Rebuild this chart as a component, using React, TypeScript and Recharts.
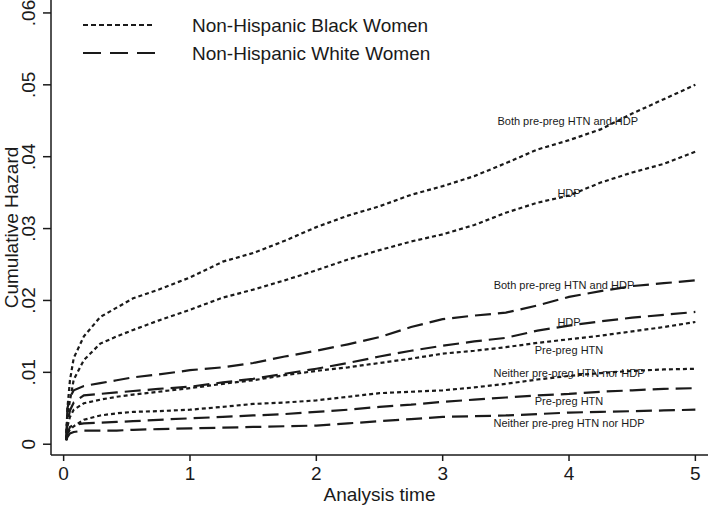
import React from 'react';
import { LineChart, Line, XAxis, YAxis, ReferenceDot } from 'recharts';

// analysis time (years)
const times = [0.02, 0.03, 0.05, 0.08, 0.16, 0.29, 0.42, 0.55, 0.75, 1.0, 1.26, 1.5, 1.75, 2.0, 2.25, 2.5, 2.75, 3.0, 3.25, 3.5, 3.75, 4.0, 4.25, 4.5, 4.75, 5.0];

// Non-Hispanic Black women (dotted)
const blackBoth = [0.0006, 0.005, 0.0089, 0.012, 0.015, 0.0177, 0.019, 0.0203, 0.0215, 0.0232, 0.0254, 0.0266, 0.0283, 0.0302, 0.0318, 0.0331, 0.0347, 0.0359, 0.0373, 0.0391, 0.041, 0.0423, 0.0438, 0.046, 0.048, 0.05];
const blackHdp = [0.0006, 0.004, 0.0061, 0.009, 0.0117, 0.014, 0.015, 0.0159, 0.0172, 0.0187, 0.0204, 0.0215, 0.0228, 0.0242, 0.0257, 0.027, 0.0282, 0.0292, 0.0305, 0.0322, 0.0336, 0.0346, 0.0364, 0.0378, 0.039, 0.0407];
const blackHtn = [0.0006, 0.0025, 0.0038, 0.0048, 0.0057, 0.0062, 0.0066, 0.0069, 0.0073, 0.0078, 0.0084, 0.0089, 0.0096, 0.0102, 0.0107, 0.0113, 0.0119, 0.0126, 0.013, 0.0135, 0.0141, 0.0146, 0.0151, 0.0157, 0.0163, 0.017];
const blackNeither = [0.0006, 0.0015, 0.002, 0.0025, 0.0034, 0.004, 0.0043, 0.0045, 0.0046, 0.0048, 0.0052, 0.0056, 0.0058, 0.0061, 0.0066, 0.0071, 0.0073, 0.0075, 0.0079, 0.0084, 0.009, 0.0095, 0.0099, 0.0102, 0.0104, 0.0105];

// Non-Hispanic White women (dashed)
const whiteBoth = [0.0006, 0.005, 0.0065, 0.0075, 0.0081, 0.0085, 0.0089, 0.0093, 0.0097, 0.0103, 0.0107, 0.0113, 0.0122, 0.013, 0.0139, 0.0149, 0.0163, 0.0174, 0.0179, 0.0183, 0.0193, 0.0205, 0.0213, 0.022, 0.0224, 0.0228];
const whiteHdp = [0.0006, 0.003, 0.0047, 0.0058, 0.0068, 0.007, 0.0072, 0.0074, 0.0077, 0.008, 0.0086, 0.0091, 0.0098, 0.0105, 0.0113, 0.0122, 0.013, 0.0137, 0.0143, 0.0148, 0.0158, 0.0165, 0.0171, 0.0176, 0.018, 0.0184];
const whiteHtn = [0.0006, 0.0015, 0.0024, 0.0027, 0.0029, 0.003, 0.0031, 0.0032, 0.0034, 0.0036, 0.0038, 0.004, 0.0042, 0.0045, 0.0048, 0.0052, 0.0055, 0.0059, 0.0062, 0.0065, 0.0068, 0.007, 0.0073, 0.0075, 0.0077, 0.0078];
const whiteNeither = [0.0005, 0.001, 0.0015, 0.0017, 0.0019, 0.0019, 0.0019, 0.002, 0.0021, 0.0022, 0.0023, 0.0024, 0.0025, 0.0026, 0.0029, 0.0032, 0.0035, 0.0038, 0.0039, 0.004, 0.0042, 0.0044, 0.0045, 0.0046, 0.0047, 0.0048];

const xTicks = [0, 1, 2, 3, 4, 5];
const yTicks = [0, 0.01, 0.02, 0.03, 0.04, 0.05, 0.06];

// curve labels: [text, x, y]
const curveLabels: [string, number, number][] = [
  ['Both pre-preg HTN and HDP', 3.99, 0.045],
  ['HDP', 4.0, 0.035],
  ['Both pre-preg HTN and HDP', 3.96, 0.0221],
  ['HDP', 4.0, 0.017],
  ['Pre-preg HTN', 4.0, 0.0131],
  ['Neither pre-preg HTN nor HDP', 4.0, 0.0099],
  ['Pre-preg HTN', 4.0, 0.006],
  ['Neither pre-preg HTN nor HDP', 4.0, 0.003],
];

const DOT = '4 3';
const DASH = '16 7';
const FONT = '"Liberation Sans", Arial, sans-serif';
const INK = '#1a1a1a';

const data = times.map((t, i) => ({
  t,
  blackBoth: blackBoth[i],
  blackHdp: blackHdp[i],
  blackHtn: blackHtn[i],
  blackNeither: blackNeither[i],
  whiteBoth: whiteBoth[i],
  whiteHdp: whiteHdp[i],
  whiteHtn: whiteHtn[i],
  whiteNeither: whiteNeither[i],
}));

const series = [
  { key: 'blackBoth', dash: DOT },
  { key: 'blackHdp', dash: DOT },
  { key: 'blackHtn', dash: DOT },
  { key: 'blackNeither', dash: DOT },
  { key: 'whiteBoth', dash: DASH },
  { key: 'whiteHdp', dash: DASH },
  { key: 'whiteHtn', dash: DASH },
  { key: 'whiteNeither', dash: DASH },
];

const fmtY = (v: number) => (v === 0 ? '0' : v.toFixed(2).replace(/^0/, ''));

const YTick = ({ x, y, payload }: any) => (
  <text
    x={x - 12}
    y={y}
    transform={`rotate(-90, ${x - 12}, ${y})`}
    textAnchor="middle"
    dominantBaseline="central"
    fontSize={19}
    fontFamily={FONT}
    fill={INK}
  >
    {fmtY(payload.value)}
  </text>
);

export default function App() {
  return (
    <div style={{ position: 'absolute', left: 0, top: 0, width: 709, height: 509, background: '#fff' }}>
      <LineChart width={709} height={509} data={data} margin={{ top: 0, right: 1, left: 0, bottom: 0 }}>
        <XAxis
          dataKey="t"
          type="number"
          domain={[-0.1, 5.1]}
          ticks={xTicks}
          allowDataOverflow
          height={54}
          stroke={INK}
          strokeWidth={1.5}
          tickSize={6}
          tickMargin={6}
          tick={{ fontSize: 19, fontFamily: FONT, fill: INK }}
          label={{
            content: ({ viewBox }: any) => (
              <text
                x={viewBox.x + viewBox.width / 2}
                y={viewBox.y + 39}
                textAnchor="middle"
                dominantBaseline="central"
                fontSize={19}
                fontFamily={FONT}
                fill={INK}
              >
                Analysis time
              </text>
            ),
          }}
        />
        <YAxis
          type="number"
          domain={[-0.0015, 0.0618]}
          ticks={yTicks}
          allowDataOverflow
          width={51}
          stroke={INK}
          strokeWidth={1.5}
          tickSize={8}
          tickMargin={2}
          tick={<YTick />}
          label={{
            content: ({ viewBox }: any) => {
              const cx = viewBox.x + 11;
              const cy = viewBox.y + viewBox.height / 2;
              return (
                <text
                  x={cx}
                  y={cy}
                  transform={`rotate(-90, ${cx}, ${cy})`}
                  textAnchor="middle"
                  dominantBaseline="central"
                  fontSize={19}
                  fontFamily={FONT}
                  fill={INK}
                >
                  Cumulative Hazard
                </text>
              );
            },
          }}
        />
        {series.map(s => (
          <Line
            key={s.key}
            dataKey={s.key}
            type="linear"
            stroke={INK}
            strokeWidth={2.2}
            strokeDasharray={s.dash}
            dot={false}
            activeDot={false}
            isAnimationActive={false}
          />
        ))}
        {curveLabels.map(([text, x, y], i) => (
          <ReferenceDot
            key={i}
            x={x}
            y={y}
            r={0}
            fill="none"
            stroke="none"
            label={{ value: text, position: 'center', fontSize: 11, fontFamily: FONT, fill: INK }}
          />
        ))}
      </LineChart>
      <svg width={520} height={70} style={{ position: 'absolute', left: 0, top: 0 }}>
        <line x1={83} x2={155} y1={25} y2={25} stroke={INK} strokeWidth={2} strokeDasharray="5 3" />
        <text x={192} y={25} dominantBaseline="central" fontSize={19} fontFamily={FONT} fill={INK}>
          Non-Hispanic Black Women
        </text>
        <line x1={83} x2={155} y1={53} y2={53} stroke={INK} strokeWidth={2} strokeDasharray="18 9" />
        <text x={192} y={53} dominantBaseline="central" fontSize={19} fontFamily={FONT} fill={INK}>
          Non-Hispanic White Women
        </text>
      </svg>
    </div>
  );
}
